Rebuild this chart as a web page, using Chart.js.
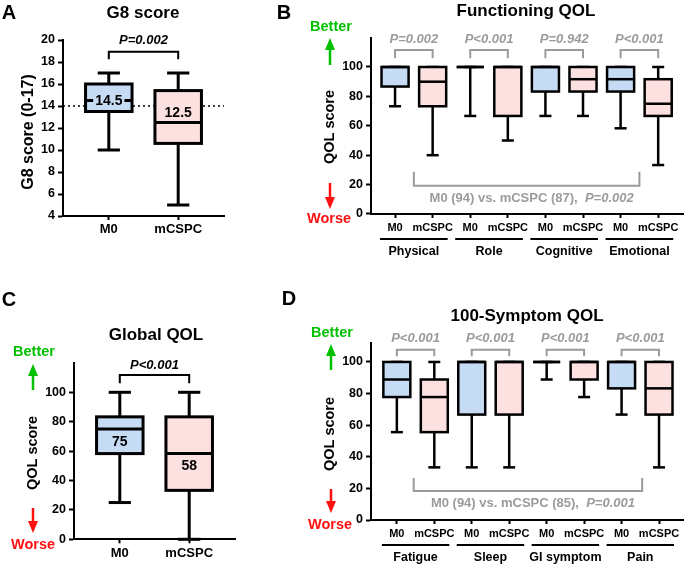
<!DOCTYPE html>
<html>
<head>
<meta charset="utf-8">
<title>G8 score and QOL</title>
<script src="https://cdn.jsdelivr.net/npm/chart.js@4.4.1/dist/chart.umd.min.js"></script>
<style>
  body { margin: 0; background: #fff; }
  #wrap { position: relative; width: 685px; height: 567px; overflow: hidden; }
  #wrap canvas { position: absolute; left: 0; top: 0; }
</style>
</head>
<body>
<div id="wrap">
  <canvas id="chartA" width="685" height="567"></canvas>
  <canvas id="chartB" width="685" height="567"></canvas>
  <canvas id="chartC" width="685" height="567"></canvas>
  <canvas id="chartD" width="685" height="567"></canvas>
</div>
<script>
const FONT = "'Liberation Sans', Arial, Helvetica, sans-serif";
const BLUE = '#c6dcf5';
const PINK = '#fde1e1';
const GRAY = '#9b9b9b';
const GREEN = '#00c000';
const RED = '#ff1010';

// A - G8 score
const g8Title = 'G8 score';
const g8AxisTitle = 'G8 score (0-17)';
const g8Groups = ['M0', 'mCSPC'];
const g8Min = [10, 5];
const g8Q1 = [13.5, 10.6];
const g8Median = [14.5, 12.5];
const g8Q3 = [16, 15.4];
const g8Max = [17, 17];
const g8MedianText = ['14.5', '12.5'];
const g8Cutoff = 14;
const g8P = ['P=0.002'];
const g8Ticks = [4, 6, 8, 10, 12, 14, 16, 18, 20];

// B - functioning QOL
const funcTitle = 'Functioning QOL';
const funcGroups = ['M0', 'mCSPC', 'M0', 'mCSPC', 'M0', 'mCSPC', 'M0', 'mCSPC'];
const funcDomains = ['Physical', 'Role', 'Cognitive', 'Emotional'];
const funcMin = [73.3, 40, 66.7, 50, 66.7, 66.7, 58.3, 33.3];
const funcQ1 = [86.7, 73.3, 100, 66.7, 83.3, 83.3, 83.3, 66.7];
const funcMedian = [100, 90, 100, 100, 100, 91.7, 91.7, 75];
const funcQ3 = [100, 100, 100, 100, 100, 100, 100, 91.7];
const funcMax = [100, 100, 100, 100, 100, 100, 100, 100];
const funcP = ['P=0.002', 'P<0.001', 'P=0.942', 'P<0.001'];
const funcOverall = ['M0 (94) vs. mCSPC (87),', 'P=0.002'];

// C - global QOL
const globalTitle = 'Global QOL';
const globalGroups = ['M0', 'mCSPC'];
const globalMin = [25, 0];
const globalQ1 = [58.3, 33.3];
const globalMedian = [75, 58.3];
const globalQ3 = [83.3, 83.3];
const globalMax = [100, 100];
const globalMedianText = ['75', '58'];
const globalP = ['P<0.001'];

// D - symptom QOL
const symTitle = '100-Symptom QOL';
const symGroups = ['M0', 'mCSPC', 'M0', 'mCSPC', 'M0', 'mCSPC', 'M0', 'mCSPC'];
const symDomains = ['Fatigue', 'Sleep', 'GI symptom', 'Pain'];
const symMin = [55.6, 33.3, 33.3, 33.3, 88.9, 77.8, 66.7, 33.3];
const symQ1 = [77.8, 55.6, 66.7, 66.7, 100, 88.9, 83.3, 66.7];
const symMedian = [88.9, 77.8, 100, 100, 100, 100, 100, 83.3];
const symQ3 = [100, 88.9, 100, 100, 100, 100, 100, 100];
const symMax = [100, 100, 100, 100, 100, 100, 100, 100];
const symP = ['P<0.001', 'P<0.001', 'P<0.001', 'P<0.001'];
const symOverall = ['M0 (94) vs. mCSPC (85),', 'P=0.001'];

const qolAxisTitle = 'QOL score';
const qolTicks = [0, 20, 40, 60, 80, 100];
const betterText = 'Better';
const worseText = 'Worse';

function seg(ctx, x0, y0, x1, y1) {
    ctx.beginPath();
    ctx.moveTo(x0, y0);
    ctx.lineTo(x1, y1);
    ctx.stroke();
}

function label(ctx, str, x, y, font, color, align) {
    ctx.font = font;
    ctx.fillStyle = color;
    ctx.textAlign = align || 'center';
    ctx.textBaseline = 'middle';
    ctx.fillText(str, x, y);
}

function arrow(ctx, x, yTail, yTip, color) {
    const dir = yTip < yTail ? -1 : 1;
    const head = 12;
    ctx.strokeStyle = color;
    ctx.fillStyle = color;
    ctx.lineWidth = 2.5;
    seg(ctx, x, yTail, x, yTip - dir * head);
    ctx.beginPath();
    ctx.moveTo(x, yTip);
    ctx.lineTo(x - 5, yTip - dir * head);
    ctx.lineTo(x + 5, yTip - dir * head);
    ctx.closePath();
    ctx.fill();
}

function boxDecor(d, look) {
    const idx = d.median.map((v, i) => i);
    return {
        id: 'boxDecor',
        beforeDatasetsDraw(chart) {
            const ctx = chart.ctx, x = chart.scales.x, y = chart.scales.y;
            ctx.save();
            if (d.cutoff !== undefined) {
                const yc = y.getPixelForValue(d.cutoff);
                ctx.setLineDash([2, 3]);
                ctx.lineWidth = 1.5;
                ctx.strokeStyle = '#000';
                seg(ctx, chart.chartArea.left, yc, chart.chartArea.right, yc);
                ctx.setLineDash([]);
            }
            // whiskers and caps
            ctx.lineWidth = look.line;
            ctx.strokeStyle = '#000';
            idx.forEach(i => {
                const cx = x.getPixelForValue(i);
                const c0 = x.getPixelForValue(i - look.cap / 2);
                const c1 = x.getPixelForValue(i + look.cap / 2);
                const yLo = y.getPixelForValue(d.min[i]);
                const yHi = y.getPixelForValue(d.max[i]);
                seg(ctx, cx, yLo, cx, yHi);
                seg(ctx, c0, yLo, c1, yLo);
                seg(ctx, c0, yHi, c1, yHi);
            });
            ctx.restore();
        },
        afterDatasetsDraw(chart) {
            const ctx = chart.ctx, x = chart.scales.x, y = chart.scales.y;
            const bars = chart.getDatasetMeta(0).data;
            const area = chart.chartArea;
            ctx.save();
            ctx.strokeStyle = '#000';
            ctx.lineWidth = look.line;
            idx.forEach(i => {
                const b = bars[i];
                const left = b.x - b.width / 2;
                ctx.strokeRect(left, Math.min(b.y, b.base), b.width, Math.abs(b.base - b.y));
                const ym = y.getPixelForValue(d.median[i]);
                seg(ctx, left, ym, left + b.width, ym);
            });

            if (d.medianText) {
                idx.forEach(i => {
                    const b = bars[i];
                    const ly = y.getPixelForValue(d.median[i]) + look.labelShift[i];
                    const f = 'bold 14px ' + FONT;
                    ctx.font = f;
                    const w = ctx.measureText(d.medianText[i]).width;
                    ctx.fillStyle = i % 2 ? PINK : BLUE;
                    ctx.fillRect(b.x - w / 2 - 2, ly - 7, w + 4, 14);
                    label(ctx, d.medianText[i], b.x, ly + 1, f, '#000');
                });
            }

            // pairwise brackets
            d.pValues.forEach((p, k) => {
                const x0 = x.getPixelForValue(2 * k);
                const x1 = x.getPixelForValue(2 * k + 1);
                const yt = y.getPixelForValue(look.bracket[0]);
                const yf = y.getPixelForValue(look.bracket[1]);
                ctx.strokeStyle = look.pColor;
                ctx.lineWidth = 2;
                ctx.beginPath();
                ctx.moveTo(x0, yf);
                ctx.lineTo(x0, yt);
                ctx.lineTo(x1, yt);
                ctx.lineTo(x1, yf);
                ctx.stroke();
                label(ctx, p, (x0 + x1) / 2, y.getPixelForValue(look.bracket[2]), 'italic bold 13px ' + FONT, look.pColor);
            });

            // overall comparison
            if (d.overall) {
                const s = look.summary;
                const xa = x.getPixelForValue(s[0]), xb = x.getPixelForValue(s[1]);
                const yb = y.getPixelForValue(s[2]), ye = y.getPixelForValue(s[3]);
                ctx.strokeStyle = GRAY;
                ctx.lineWidth = 2;
                ctx.beginPath();
                ctx.moveTo(xa, ye);
                ctx.lineTo(xa, yb);
                ctx.lineTo(xb, yb);
                ctx.lineTo(xb, ye);
                ctx.stroke();
                const f1 = 'bold 13px ' + FONT, f2 = 'italic bold 13px ' + FONT;
                ctx.font = f1;
                const w1 = ctx.measureText(d.overall[0] + '  ').width;
                ctx.font = f2;
                const w2 = ctx.measureText(d.overall[1]).width;
                const start = (xa + xb) / 2 + 5 - (w1 + w2) / 2;
                const yt = y.getPixelForValue(s[4]);
                label(ctx, d.overall[0], start, yt, f1, GRAY, 'left');
                label(ctx, d.overall[1], start + w1, yt, f2, GRAY, 'left');
            }

            // domain group lines under the axis
            if (d.domains) {
                d.domains.forEach((g, k) => {
                    const xa = x.getPixelForValue(2 * k - 0.4);
                    const xb = x.getPixelForValue(2 * k + 1.4);
                    ctx.strokeStyle = '#000';
                    ctx.lineWidth = 2;
                    seg(ctx, xa, area.bottom + 25, xb, area.bottom + 25);
                    label(ctx, g, (xa + xb) / 2, area.bottom + 38, 'bold 12.5px ' + FONT, '#000');
                });
            }
            ctx.restore();
        },
        afterDraw(chart) {
            const ctx = chart.ctx;
            const k = look.deco;
            ctx.save();
            label(ctx, k.letter[0], k.letter[1], k.letter[2], 'bold 20px ' + FONT, '#000');
            label(ctx, d.title, k.title[0], k.title[1], 'bold 17px ' + FONT, '#000');
            ctx.translate(k.yTitle[0], k.yTitle[1]);
            ctx.rotate(-Math.PI / 2);
            label(ctx, d.axisTitle, 0, 0, 'bold ' + k.yTitle[2] + 'px ' + FONT, '#000');
            ctx.restore();
            if (k.better) {
                ctx.save();
                label(ctx, betterText, k.better[0], k.better[1], 'bold 14.5px ' + FONT, GREEN);
                arrow(ctx, k.up[0], k.up[1], k.up[2], GREEN);
                arrow(ctx, k.down[0], k.down[1], k.down[2], RED);
                label(ctx, worseText, k.worse[0], k.worse[1], 'bold 14.5px ' + FONT, RED);
                ctx.restore();
            }
        }
    };
}

function makeBoxChart(canvasId, d, look) {
    const idx = d.median.map((v, i) => i);
    new Chart(document.getElementById(canvasId), {
        type: 'bar',
        data: {
            datasets: [{
                data: idx.map(i => ({ x: i, y: [d.q1[i], d.q3[i]] })),
                backgroundColor: idx.map(i => i % 2 ? PINK : BLUE),
                borderWidth: 0,
                barPercentage: 1,
                categoryPercentage: look.box
            }]
        },
        options: {
            responsive: false,
            animation: false,
            devicePixelRatio: 1,
            layout: { padding: look.pad },
            plugins: { legend: { display: false }, tooltip: { enabled: false } },
            scales: {
                x: {
                    type: 'linear',
                    offset: false,
                    min: look.xRange[0],
                    max: look.xRange[1],
                    afterBuildTicks: s => { s.ticks = idx.map(v => ({ value: v })); },
                    afterFit: s => { s.height = 20; },
                    ticks: {
                        callback: v => d.groups[Math.round(v)],
                        autoSkip: false, maxRotation: 0, minRotation: 0,
                        color: '#000', padding: look.xPad,
                        font: { family: FONT, size: look.xFont, weight: 'bold' }
                    },
                    grid: { offset: false, drawOnChartArea: false, tickLength: 4, tickWidth: 2, tickColor: '#000' },
                    border: { color: '#000', width: 2 }
                },
                y: {
                    min: look.yRange[0],
                    max: look.yRange[1],
                    afterBuildTicks: s => { s.ticks = d.yTicks.map(v => ({ value: v })); },
                    afterFit: s => { s.width = 40; },
                    ticks: { color: '#000', padding: 3, font: { family: FONT, size: 12.5, weight: 'bold' } },
                    grid: { drawOnChartArea: false, tickLength: 5, tickWidth: 2, tickColor: '#000' },
                    border: { color: '#000', width: 2 }
                }
            }
        },
        plugins: [boxDecor(d, look)]
    });
}

makeBoxChart('chartA', {
    title: g8Title, axisTitle: g8AxisTitle, groups: g8Groups,
    min: g8Min, q1: g8Q1, median: g8Median, q3: g8Q3, max: g8Max,
    medianText: g8MedianText, cutoff: g8Cutoff, pValues: g8P, yTicks: g8Ticks
}, {
    pad: { left: 23, right: 461, top: 40, bottom: 331 },
    xRange: [-0.66, 1.66], yRange: [4, 20],
    box: 0.67, cap: 0.32, line: 3, xFont: 13, xPad: 2,
    bracket: [18.94, 18.25, 19.94], pColor: '#000', labelShift: [0, -10],
    deco: { letter: ['A', 9, 13], title: [143, 13], yTitle: [29, 132, 16] }
});

makeBoxChart('chartB', {
    title: funcTitle, axisTitle: qolAxisTitle, groups: funcGroups, domains: funcDomains,
    min: funcMin, q1: funcQ1, median: funcMedian, q3: funcQ3, max: funcMax,
    pValues: funcP, overall: funcOverall, yTicks: qolTicks
}, {
    pad: { left: 331, right: 2, top: 37.6, bottom: 333 },
    xRange: [-0.64, 7.66], yRange: [0, 120],
    box: 0.72, cap: 0.32, line: 2.5, xFont: 11, xPad: 3,
    bracket: [111.5, 106, 119], pColor: GRAY,
    summary: [0.5, 6.5, 19.3, 28.8, 10.9],
    deco: {
        letter: ['B', 284, 13], title: [526, 11], yTitle: [330, 127, 14.5],
        better: [331, 27], up: [330, 65, 38], down: [330, 183, 209], worse: [329, 219]
    }
});

makeBoxChart('chartC', {
    title: globalTitle, axisTitle: qolAxisTitle, groups: globalGroups,
    min: globalMin, q1: globalQ1, median: globalMedian, q3: globalQ3, max: globalMax,
    medianText: globalMedianText, pValues: globalP, yTicks: qolTicks
}, {
    pad: { left: 34, right: 450, top: 362.9, bottom: 7.7 },
    xRange: [-0.66, 1.66], yRange: [0, 120],
    box: 0.67, cap: 0.32, line: 3, xFont: 13, xPad: 2,
    bracket: [111.8, 106.1, 118.6], pColor: '#000', labelShift: [12, 12],
    deco: {
        letter: ['C', 9, 300], title: [156, 335], yTitle: [33, 453, 14.5],
        better: [34, 352], up: [33, 390, 364], down: [33, 508, 533], worse: [33, 545]
    }
});

makeBoxChart('chartD', {
    title: symTitle, axisTitle: qolAxisTitle, groups: symGroups, domains: symDomains,
    min: symMin, q1: symQ1, median: symMedian, q3: symQ3, max: symMax,
    pValues: symP, overall: symOverall, yTicks: qolTicks
}, {
    pad: { left: 331, right: 2, top: 343, bottom: 27 },
    xRange: [-0.69, 7.64], yRange: [0, 112],
    box: 0.72, cap: 0.32, line: 2.5, xFont: 11, xPad: 3,
    bracket: [107.8, 103.6, 115], pColor: GRAY,
    summary: [0.45, 6.55, 18.3, 26.5, 10.5],
    deco: {
        letter: ['D', 289, 299], title: [527, 316], yTitle: [330, 434, 14.5],
        better: [332, 333], up: [331, 370, 344], down: [331, 489, 513], worse: [330, 525]
    }
});
</script>
</body>
</html>
